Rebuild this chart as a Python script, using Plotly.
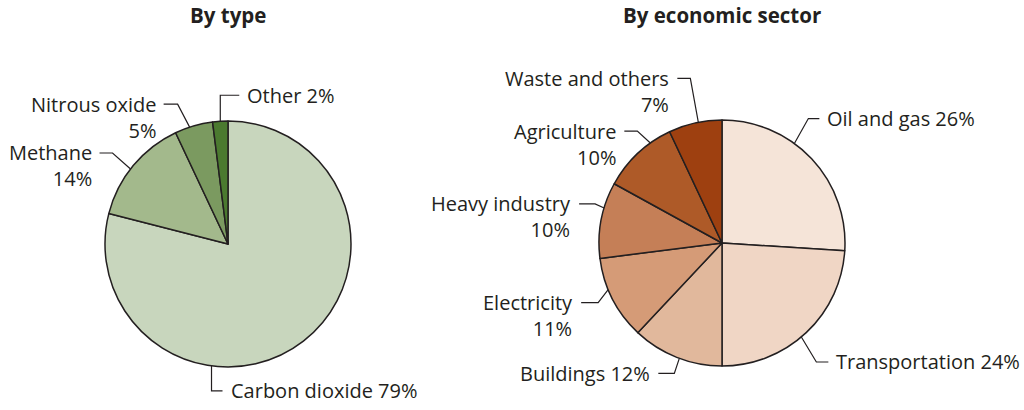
import numpy as np
import plotly.graph_objects as go

W, H = 1024, 410

# Left pie: by type
type_labels = ['Carbon dioxide', 'Methane', 'Nitrous oxide', 'Other']
type_values = [79, 14, 5, 2]
type_colors = ['#c8d6bd', '#a3b98c', '#7b9a60', '#4b7a2f']

# Right pie: by economic sector
sector_labels = ['Oil and gas', 'Transportation', 'Buildings', 'Electricity',
                 'Heavy industry', 'Agriculture', 'Waste and others']
sector_values = [26, 24, 12, 11, 10, 10, 7]
sector_colors = ['#f5e4d8', '#f0d6c5', '#e1b89c', '#d59b77',
                 '#c57f57', '#ae5a28', '#9e4010']

# leader line style per label: (position inside slice, elbow dx, elbow dy, tail length, line break)
type_leaders = [(0.66, 0, 25, 11, False), (0.46, -18, -16, -13, True),
                (0.39, -12, -23, -14, True), (0.5, 0, -26, 19, False)]
sector_leaders = [(0.385, 14, -25, 11, False), (0.535, 15, 25, 12, False),
                  (0.47, -5, 15, -16, False), (0.62, -10, 13, -17, True),
                  (0.66, -9, -4, -16, True), (0.71, -13, -12, -13, True),
                  (0.56, -8, -44, -13, True)]

FONT = 'Open Sans'
FSIZE = 20
INK = '#231f20'
R = 123


def px(x):
    return x / W


def py(y):
    return 1 - y / H


def domain(cx, cy, r):
    return dict(x=[px(cx - r), px(cx + r)], y=[py(cy + r), py(cy - r)])


fig = go.Figure()
shapes = []
annotations = []


def add_pie(labels, values, colors, leaders, cx, cy, title):
    fig.add_trace(go.Pie(
        labels=labels, values=values, sort=False, direction='clockwise',
        rotation=0, textinfo='none', hoverinfo='label+percent',
        marker=dict(colors=colors, line=dict(color=INK, width=1.5)),
        domain=domain(cx, cy, R), showlegend=False))
    total = sum(values)
    start = 0
    for lab, val, (frac, dx, dy, tail, brk) in zip(labels, values, leaders):
        theta = 2 * np.pi * (start + frac * val) / total
        start += val
        ax = cx + R * np.sin(theta)
        ay = cy - R * np.cos(theta)
        ex, ey = ax + dx, ay + dy
        tx = ex + tail
        shapes.append(dict(type='path', xref='paper', yref='paper',
                           path=f'M {px(ax)},{py(ay)} L {px(ex)},{py(ey)} L {px(tx)},{py(ey)}',
                           line=dict(color=INK, width=1.2)))
        right = tail > 0
        if brk:
            text = f'{lab}<br>{val}%'
            ty = ey + 1.3 * FSIZE / 2
        else:
            text = f'{lab} {val}%'
            ty = ey
        annotations.append(dict(
            text=text, xref='paper', yref='paper', showarrow=False,
            x=px(tx + (6 if right else -6)), y=py(ty),
            xanchor='left' if right else 'right', yanchor='middle',
            align='left' if right else 'right',
            font=dict(family=FONT, size=FSIZE, color=INK)))
    annotations.append(dict(
        text=f'<b>{title}</b>', xref='paper', yref='paper', showarrow=False,
        x=px(cx), y=py(15), xanchor='center', yanchor='middle',
        font=dict(family=FONT, size=20.5, color=INK)))


add_pie(type_labels, type_values, type_colors, type_leaders, 228, 244, 'By type')
add_pie(sector_labels, sector_values, sector_colors, sector_leaders, 722, 243,
        'By economic sector')

fig.update_layout(
    width=W, height=H,
    margin=dict(l=0, r=0, t=0, b=0, pad=0),
    paper_bgcolor='white', plot_bgcolor='white',
    shapes=shapes, annotations=annotations,
    font=dict(family=FONT, color=INK),
)

fig.write_html("out.html", config={'displayModeBar': False},
               post_script="document.body.style.margin='0';")
